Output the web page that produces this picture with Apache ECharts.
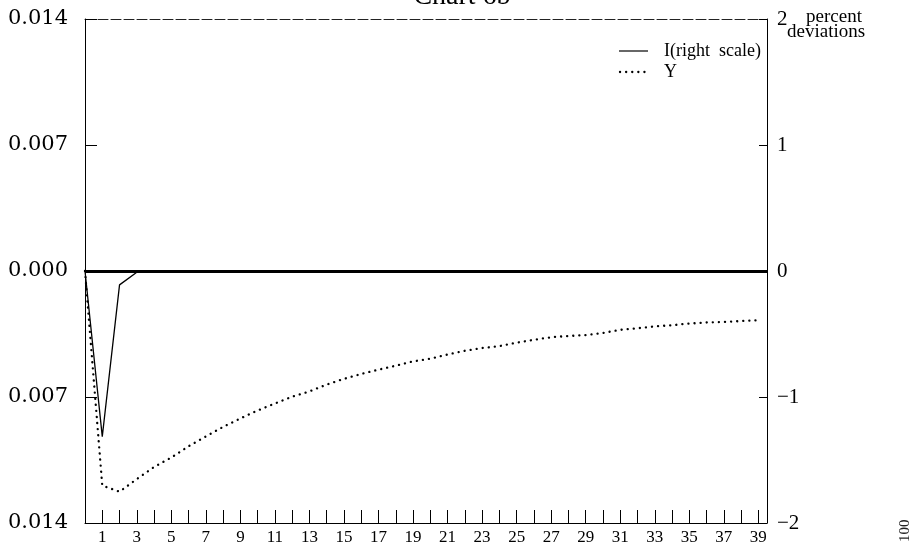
<!DOCTYPE html>
<html>
<head>
<meta charset="utf-8">
<script src="https://cdn.jsdelivr.net/npm/echarts@6/dist/echarts.min.js"></script>
<style>html,body{margin:0;padding:0;background:#fff}#c{width:910px;height:548px}</style>
</head>
<body>
<div id="c"></div>
<script>
const periods = [0,1,2,3,4,5,6,7,8,9,10,11,12,13,14,15,16,17,18,19,20,21,22,23,24,25,26,27,28,29,30,31,32,33,34,35,36,37,38,39];
const investment = [0,-1.315,-0.11,-0.01,0,0,0,0,0,0,0,0,0,0,0,0,0,0,0,0,0,0,0,0,0,0,0,0,0,0,0,0,0,0,0,0,0,0,0,0];
const output = [0,-0.01192,-0.01226,-0.01156,-0.01089,-0.01036,-0.00974,-0.00919,-0.00866,-0.00819,-0.00775,-0.00736,-0.00698,-0.00669,-0.00631,-0.00599,-0.00572,-0.00548,-0.00526,-0.00502,-0.00487,-0.00464,-0.00443,-0.00428,-0.00417,-0.00398,-0.00382,-0.00368,-0.00361,-0.00356,-0.00344,-0.00327,-0.00318,-0.00308,-0.00301,-0.00292,-0.00286,-0.00283,-0.00278,-0.00274];
const seriesNames = ['I(right  scale)', 'Y'];
const titleText = 'Chart 6b';
const rightUnit = ['percent', 'deviations'];

const FONT = '"Liberation Serif", "DejaVu Serif", serif';
const DFONT = '"DejaVu Serif", "Liberation Serif", serif';
const chart = echarts.init(document.getElementById('c'), null, {renderer: 'canvas'});
const pair = (vals) => periods.map((p, i) => [p, vals[i]]);
const solidStyle = {stroke: '#000', lineWidth: 1.2};
const dotStyle = {stroke: '#000', lineWidth: 2.3, lineDash: [0.1, 6], lineCap: 'round'};

chart.setOption({
  animation: false,
  backgroundColor: '#fff',
  grid: {left: 85, right: 143, top: 19, bottom: 25, containLabel: false},
  graphic: [
    {type: 'text', style: {x: 462, y: 11, align: 'center', verticalAlign: 'bottom', text: titleText, font: '28px ' + FONT, fill: '#000'}},
    {type: 'text', style: {x: 806, y: 8, text: rightUnit[0], font: '19px ' + FONT, fill: '#000'}},
    {type: 'text', style: {x: 787, y: 23, text: rightUnit[1], font: '19px ' + FONT, fill: '#000'}},
    {type: 'text', x: 898, y: 542, rotation: Math.PI / 2, style: {text: '100', font: '15px ' + FONT, fill: '#222'}},
    {type: 'line', shape: {x1: 619, y1: 51, x2: 648, y2: 51}, style: solidStyle},
    {type: 'line', shape: {x1: 620, y1: 72, x2: 650, y2: 72}, style: dotStyle},
    {type: 'text', style: {x: 664, y: 51, verticalAlign: 'middle', text: seriesNames[0], font: '18px ' + FONT, fill: '#000'}},
    {type: 'text', style: {x: 664, y: 72, verticalAlign: 'middle', text: seriesNames[1], font: '18px ' + FONT, fill: '#000'}}
  ],
  xAxis: [{
    type: 'value', min: 0, max: 39.5, interval: 1, position: 'bottom',
    axisLine: {show: true, onZero: false, lineStyle: {color: '#000', width: 1}},
    axisTick: {show: true, inside: true, length: 13, lineStyle: {color: '#000', width: 1}},
    axisLabel: {
      fontFamily: FONT, fontSize: 17, color: '#000', margin: 6,
      showMaxLabel: false, showMinLabel: false,
      formatter: v => (Number.isInteger(v) && v % 2 === 1) ? String(v) : ''
    },
    splitLine: {show: false}
  }, {
    type: 'value', min: 0, max: 39.5, position: 'top',
    axisLine: {show: true, onZero: false, lineStyle: {color: '#222', width: 1, type: [10, 3]}},
    axisTick: {show: false}, axisLabel: {show: false}, splitLine: {show: false}
  }],
  yAxis: [{
    type: 'value', min: -0.014, max: 0.014, interval: 0.007, position: 'left',
    axisLine: {show: true, onZero: false, lineStyle: {color: '#000', width: 1}},
    axisTick: {show: true, inside: true, length: 12, lineStyle: {color: '#000'}},
    axisLabel: {fontFamily: DFONT, fontSize: 21, color: '#000', margin: 17,
      formatter: v => Math.abs(v).toFixed(3)},
    splitLine: {show: false}
  }, {
    type: 'value', min: -2, max: 2, interval: 1, position: 'right',
    axisLine: {show: true, onZero: false, lineStyle: {color: '#000', width: 1}},
    axisTick: {show: true, inside: true, length: 8, lineStyle: {color: '#000'}},
    axisLabel: {fontFamily: FONT, fontSize: 21, color: '#000', margin: 10,
      formatter: v => v < 0 ? '\u2212' + Math.abs(v) : String(v)},
    splitLine: {show: false}
  }],
  series: [{
    name: seriesNames[0], type: 'line', yAxisIndex: 1, xAxisIndex: 0,
    data: pair(investment), symbol: 'none', z: 3,
    lineStyle: {color: '#000', width: 1.3, type: 'solid'},
    itemStyle: {color: '#000'},
    markLine: {silent: true, symbol: 'none', label: {show: false},
      lineStyle: {color: '#000', width: 3, type: 'solid'},
      data: [{yAxis: 0}]}
  }, {
    name: seriesNames[1], type: 'line', yAxisIndex: 0, xAxisIndex: 0,
    data: pair(output), symbol: 'none', z: 4,
    lineStyle: {color: '#000', width: 2.3, type: [0.1, 6], cap: 'round'},
    itemStyle: {color: '#000'}
  }]
});
</script>
</body>
</html>
